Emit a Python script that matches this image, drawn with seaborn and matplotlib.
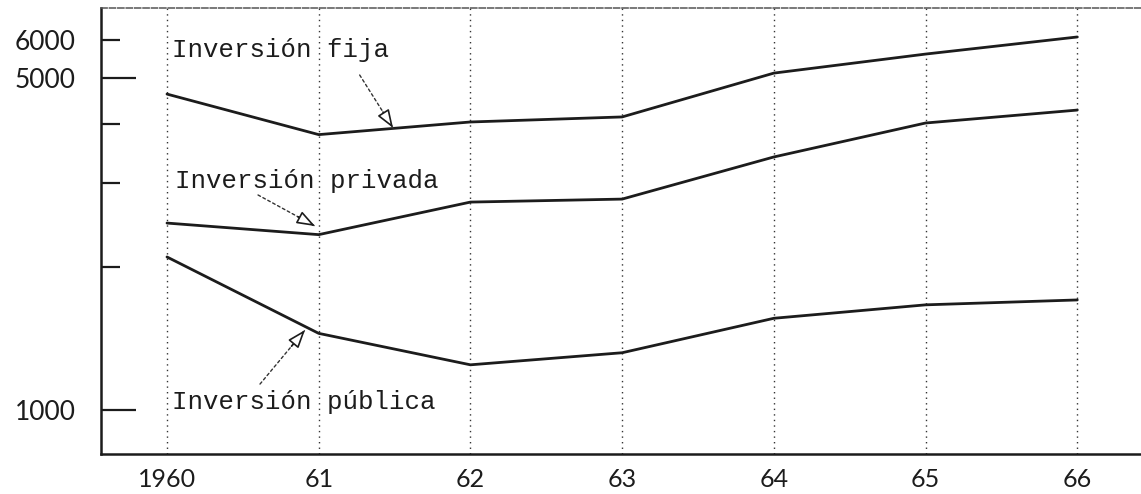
import numpy as np
import pandas as pd
import matplotlib
matplotlib.use("Agg")
import matplotlib.pyplot as plt
from matplotlib.ticker import NullLocator, FixedLocator, FixedFormatter
import seaborn as sns

# Inversión bruta (escala logarítmica), 1960-1966
years = [1960, 1961, 1962, 1963, 1964, 1965, 1966]
year_labels = ["1960", "61", "62", "63", "64", "65", "66"]
inversion_fija = [4625, 3800, 4040, 4140, 5120, 5615, 6100]
inversion_privada = [2475, 2340, 2740, 2780, 3410, 4020, 4280]
inversion_publica = [2100, 1450, 1245, 1320, 1560, 1665, 1705]

y_ticks = [1000, 2000, 3000, 4000, 5000, 6000]
y_tick_labels = ["1000", "", "", "", "5000", "6000"]

series_names = ["Inversión fija", "Inversión privada", "Inversión pública"]
df = pd.DataFrame({
    "year": years * 3,
    "value": inversion_fija + inversion_privada + inversion_publica,
    "serie": sum([[n] * len(years) for n in series_names], []),
})

sns.set_style("white")
plt.rcParams["font.family"] = ["Lato", "DejaVu Sans"]

fig = plt.figure(figsize=(11.41, 4.94), dpi=100)
ax = fig.add_axes([101 / 1141, 1 - 454 / 494, 1 - 101 / 1141, (454 - 8) / 494])

ink = "#1c1c1c"
sns.lineplot(data=df, x="year", y="value", hue="serie", palette=[ink] * 3,
             legend=False, lw=2.0, ax=ax)

ax.set_yscale("log")
ax.set_xlim(1959.565, 1966.42)
ax.set_ylim(808, 7020)

ax.yaxis.set_major_locator(FixedLocator(y_ticks))
ax.yaxis.set_major_formatter(FixedFormatter(y_tick_labels))
ax.yaxis.set_minor_locator(NullLocator())
ax.set_xticks(years)
ax.set_xticklabels(year_labels)
ax.set_xlabel("")
ax.set_ylabel("")

ax.tick_params(axis="y", which="major", left=True, direction="in", length=14,
               width=1.6, color=ink, pad=18, labelsize=19, labelcolor=ink)
ax.tick_params(axis="x", bottom=False, length=0, pad=10, labelsize=18,
               labelcolor=ink)

# longer ticks at 1000 and 5000
for tick, val in zip(ax.yaxis.get_major_ticks(), y_ticks):
    if val in (1000, 5000):
        tick.tick1line.set_markersize(25)

# dotted vertical guides at each year
ax.grid(axis="x", linestyle=(0, (1, 3)), color="#333333", lw=1.0)
ax.grid(axis="y", visible=False)

for side in ("left", "bottom"):
    ax.spines[side].set_color(ink)
    ax.spines[side].set_linewidth(1.8)
ax.spines["top"].set_linestyle((0, (4, 1.5)))
ax.spines["top"].set_color("#555555")
ax.spines["top"].set_linewidth(1.1)
ax.spines["right"].set_visible(False)

mono = dict(family=["Liberation Mono", "DejaVu Sans Mono"], fontsize=18.5,
            color=ink, va="center", ha="left")
ax.text(1960.03, 5727, "Inversión fija", **mono)
ax.text(1960.05, 3035, "Inversión privada", **mono)
ax.text(1960.03, 1040, "Inversión pública", **mono)

# pointer arrows: dashed shaft plus open triangular head
arrows = [
    ((1961.27, 5073), (1961.49, 3925)),
    ((1960.60, 2836), (1960.976, 2439)),
    ((1960.613, 1134), (1960.91, 1474)),
]
for (x0, y0), (x1, y1) in arrows:
    ax.annotate("", xy=(x1, y1), xytext=(x0, y0),
                arrowprops=dict(arrowstyle="-", linestyle=(0, (2, 2)),
                                color="#333333", lw=1.0, shrinkA=0, shrinkB=0))
    # short solid segment near the tip carries the hollow head
    lx0, ly0 = np.log10(y0), np.log10(y1)
    xm = x1 - (x1 - x0) * 0.3
    ym = 10 ** (ly0 + (lx0 - ly0) * 0.3)
    ax.annotate("", xy=(x1, y1), xytext=(xm, ym),
                arrowprops=dict(arrowstyle="-|>,head_length=1.1,head_width=0.4",
                                facecolor="white", edgecolor=ink, lw=1.2,
                                shrinkA=0, shrinkB=0))

fig.savefig("out.png", dpi=100, facecolor="white")
